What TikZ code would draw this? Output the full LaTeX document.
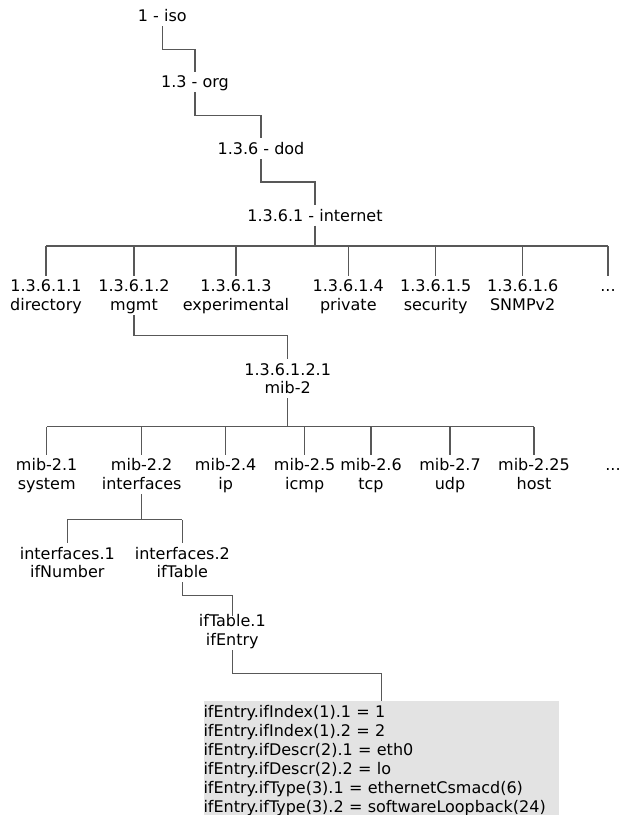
\documentclass[tikz,border=0pt]{standalone}
\usepackage{fontspec}
\setmainfont{DejaVu Sans}
\usetikzlibrary{calc}
\definecolor{linkgray}{RGB}{88,88,88}
\definecolor{leafgray}{RGB}{227,227,227}
% struts: a tall top for the first line, a fixed depth for the last one
\newcommand\topst{\rule{0pt}{16pt}}
\newcommand\botst{\rule[-4.3pt]{0pt}{4.3pt}}
\newcommand\lbl[2]{\topst#1\\#2\botst}
\newcommand\one[1]{\topst#1\botst}
\tikzset{
  oid/.style={anchor=north, inner sep=0pt, align=center,
    font=\fontsize{16pt}{18.7pt}\selectfont},
  link/.style={draw=linkgray, line width=1.3pt},
  leafbox/.style={anchor=north west, inner sep=0pt, fill=leafgray,
    text width=355.7pt, align=left,
    font=\fontsize{16pt}{19pt}\selectfont},
}
\begin{document}
\begin{tikzpicture}[x=1pt, y=-1pt]
\useasboundingbox (0,0) rectangle (619,815);

% --- top of the tree: iso / org / dod / internet
\node[oid] (iso)      at (162.3,5.7)   {\one{1 - iso}};
\node[oid] (org)      at (195,71.7)    {\one{1.3 - org}};
\node[oid] (dod)      at (261,138.3)   {\one{1.3.6 - dod}};
\node[oid] (internet) at (315,205)     {\one{1.3.6.1 - internet}};

\draw[link] (iso.south) -- ++(0,23) -| (org.north);
\draw[link] (org.south) -- ++(0,23) -| (dod.north);
\draw[link] (dod.south) -- ++(0,23.1) -| (internet.north);

% --- children of internet
\node[oid] (directory) at (46,275.7)    {\lbl{1.3.6.1.1}{directory}};
\node[oid] (mgmt)      at (134,275.7)   {\lbl{1.3.6.1.2}{mgmt}};
\node[oid] (experim)   at (236,275.7)   {\lbl{1.3.6.1.3}{experimental}};
\node[oid] (private)   at (348.3,275.7) {\lbl{1.3.6.1.4}{private}};
\node[oid] (security)  at (435.7,275.7) {\lbl{1.3.6.1.5}{security}};
\node[oid] (snmpv2)    at (522.7,275.7) {\lbl{1.3.6.1.6}{SNMPv2}};
\node[oid] (moreA)     at (608,275.7)   {\one{...}};

\coordinate (busA) at ($(internet.south)+(0,20.4)$);
\draw[link] (internet.south) -- (busA);
\draw[link] (directory.north |- busA) -- (moreA.north |- busA);
\foreach \n in {directory,mgmt,experim,private,security,snmpv2,moreA}
  \draw[link] (\n.north |- busA) -- (\n.north);

% --- mib-2 and its children
\node[oid] (mibtwo) at (287.7,359) {\lbl{1.3.6.1.2.1}{mib-2}};
\draw[link] (mgmt.south) -- ++(0,20.4) -| (mibtwo.north);

\node[oid] (system)     at (46.7,454.7)  {\lbl{mib-2.1}{system}};
\node[oid] (interfaces) at (141.7,454.7) {\lbl{mib-2.2}{interfaces}};
\node[oid] (ip)         at (225.7,454.7) {\lbl{mib-2.4}{ip}};
\node[oid] (icmp)       at (304.7,454.7) {\lbl{mib-2.5}{icmp}};
\node[oid] (tcp)        at (371,454.7)   {\lbl{mib-2.6}{tcp}};
\node[oid] (udp)        at (450,454.7)   {\lbl{mib-2.7}{udp}};
\node[oid] (host)       at (534,454.7)   {\lbl{mib-2.25}{host}};
\node[oid] (moreB)      at (613,454.7)   {\one{...}};

\coordinate (busB) at ($(mibtwo.south)+(0,28.4)$);
\draw[link] (mibtwo.south) -- (busB);
\draw[link] (system.north |- busB) -- (host.north |- busB);
\foreach \n in {system,interfaces,ip,icmp,tcp,udp,host}
  \draw[link] (\n.north |- busB) -- (\n.north);

% --- interfaces subtree
\node[oid] (ifnumber) at (67.3,543)  {\lbl{interfaces.1}{ifNumber}};
\node[oid] (iftable)  at (182.3,543) {\lbl{interfaces.2}{ifTable}};

\coordinate (busC) at ($(interfaces.south)+(0,25.7)$);
\draw[link] (interfaces.south) -- (busC);
\draw[link] (ifnumber.north |- busC) -- (iftable.north |- busC);
\foreach \n in {ifnumber,iftable}
  \draw[link] (\n.north |- busC) -- (\n.north);

\node[oid] (ifentry) at (232.3,610.7) {\lbl{ifTable.1}{ifEntry}};
\draw[link] (iftable.south) -- ++(0,13.4) -| ([yshift=-5pt]ifentry.north);

% --- instance values of ifEntry
\node[leafbox] (values) at (203.3,701) {%
  \topst ifEntry.ifIndex(1).1 = 1\\
  ifEntry.ifIndex(1).2 = 2\\
  ifEntry.ifDescr(2).1 = eth0\\
  ifEntry.ifDescr(2).2 = lo\\
  ifEntry.ifType(3).1 = ethernetCsmacd(6)\\
  ifEntry.ifType(3).2 = softwareLoopback(24)\rule[-5pt]{0pt}{5pt}};
\draw[link] (ifentry.south) -- ++(0,23.4) -| (values.north);
\end{tikzpicture}
\end{document}
